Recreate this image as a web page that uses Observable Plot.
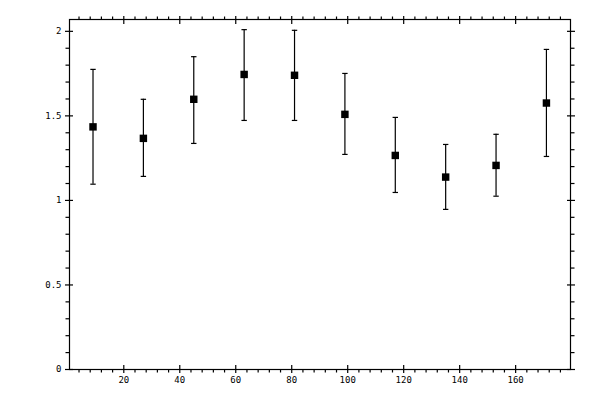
<!DOCTYPE html>
<html><head><meta charset="utf-8">
<script src="https://cdn.jsdelivr.net/npm/d3@7"></script>
<script src="https://cdn.jsdelivr.net/npm/@observablehq/plot@0.6"></script>
<style>body{margin:0;background:#fff}</style>
</head><body><div id="chart"></div>
<script>
// data
const xValues = [9, 27, 45, 63, 81, 99, 117, 135, 153, 171];
const yValues = [1.435, 1.367, 1.598, 1.745, 1.740, 1.509, 1.266, 1.138, 1.207, 1.576];
const yLower  = [1.096, 1.142, 1.337, 1.473, 1.473, 1.272, 1.047, 0.947, 1.025, 1.260];
const yUpper  = [1.775, 1.598, 1.850, 2.010, 2.006, 1.751, 1.491, 1.331, 1.391, 1.893];
// ticks
const xMajorTicks = [20, 40, 60, 80, 100, 120, 140, 160];
const xMinorTicks = [4, 8, 12, 16, 24, 28, 32, 36, 44, 48, 52, 56, 64, 68, 72, 76, 84, 88, 92, 96,
  104, 108, 112, 116, 124, 128, 132, 136, 144, 148, 152, 156, 164, 168, 172, 176];
const yMajorTicks = [0, 0.5, 1, 1.5, 2];
const yMinorTicks = [0.1, 0.2, 0.3, 0.4, 0.6, 0.7, 0.8, 0.9, 1.1, 1.2, 1.3, 1.4, 1.6, 1.7, 1.8, 1.9];

const table = xValues.map((x, i) => ({x, y: yValues[i], lo: yLower[i], hi: yUpper[i]}));

const capSymbol = {
  draw(context) { context.moveTo(-2.7, 0); context.lineTo(2.7, 0); }
};
const none = () => "";
const sw = 1.2;

const chart = Plot.plot({
  width: 600,
  height: 400,
  marginLeft: 69,
  marginRight: 30,
  marginTop: 19,
  marginBottom: 31,
  style: {fontFamily: "DejaVu Sans Mono", fontSize: "9px", background: "#fff", color: "#000"},
  x: {domain: [0.6, 179.6]},
  y: {domain: [0, 2.07]},
  marks: [
    Plot.frame({stroke: "#000", strokeWidth: sw}),
    // bottom
    Plot.axisX(xMajorTicks, {anchor: "bottom", tickSize: 4, tickPadding: 3, tickFormat: d => String(d), label: null, strokeWidth: sw}),
    Plot.axisX(xMajorTicks, {anchor: "bottom", tickSize: -4, tickFormat: none, label: null, strokeWidth: sw}),
    Plot.axisX(xMinorTicks, {anchor: "bottom", tickSize: 3.5, tickFormat: none, label: null, strokeWidth: sw}),
    // top
    Plot.axisX(xMajorTicks, {anchor: "top", tickSize: 4, tickFormat: none, label: null, strokeWidth: sw}),
    Plot.axisX(xMajorTicks, {anchor: "top", tickSize: -4, tickFormat: none, label: null, strokeWidth: sw}),
    Plot.axisX(xMinorTicks, {anchor: "top", tickSize: 3.5, tickFormat: none, label: null, strokeWidth: sw}),
    // left
    Plot.axisY(yMajorTicks, {anchor: "left", tickSize: 4, tickPadding: 4, tickFormat: d => String(d), label: null, strokeWidth: sw}),
    Plot.axisY(yMajorTicks, {anchor: "left", tickSize: -4, tickFormat: none, label: null, strokeWidth: sw}),
    Plot.axisY(yMinorTicks, {anchor: "left", tickSize: 3.5, tickFormat: none, label: null, strokeWidth: sw}),
    // right
    Plot.axisY(yMajorTicks, {anchor: "right", tickSize: 4, tickFormat: none, label: null, strokeWidth: sw}),
    Plot.axisY(yMajorTicks, {anchor: "right", tickSize: -4, tickFormat: none, label: null, strokeWidth: sw}),
    Plot.axisY(yMinorTicks, {anchor: "right", tickSize: 3.5, tickFormat: none, label: null, strokeWidth: sw}),
    // error bars
    Plot.ruleX(table, {x: "x", y1: "lo", y2: "hi", stroke: "#000", strokeWidth: sw}),
    Plot.dot(table, {x: "x", y: "lo", symbol: capSymbol, stroke: "#000", strokeWidth: sw, r: 3}),
    Plot.dot(table, {x: "x", y: "hi", symbol: capSymbol, stroke: "#000", strokeWidth: sw, r: 3}),
    Plot.dot(table, {x: "x", y: "y", symbol: "square", fill: "#000", stroke: "none", r: 4.2})
  ]
});
document.getElementById("chart").append(chart);
</script>
</body></html>
